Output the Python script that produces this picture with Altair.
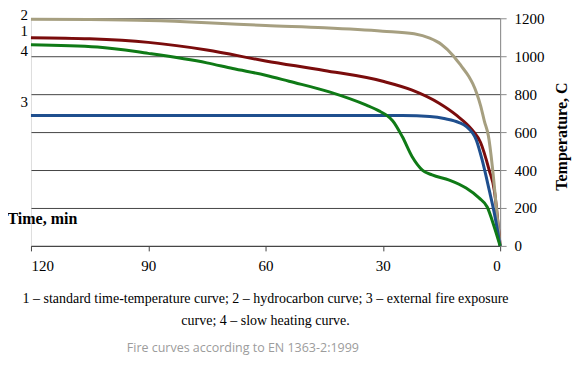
import altair as alt
import pandas as pd

# Curve 1 – standard time-temperature curve
t1 = [0, 1.5, 2.8, 5, 7.1, 11.2, 15.6, 22.5, 30, 45, 60, 75, 90, 105, 120]
T1 = [0, 295, 400, 545, 610, 689, 752, 821, 868, 925, 975, 1033, 1073, 1092, 1098]
# Curve 2 – hydrocarbon curve
t2 = [0, 1, 2, 3, 4, 5, 6, 7, 8, 10, 12, 15, 18, 22, 30, 45, 60, 75, 90, 105, 120]
T2 = [0, 210, 420, 580, 655, 740, 805, 855, 893, 950, 1003, 1062, 1095, 1118, 1132, 1150, 1162, 1177, 1188, 1193, 1195]
# Curve 3 – external fire exposure curve
t3 = [0, 1.5, 2.8, 4.6, 6.1, 8.7, 10.5, 14, 18, 25, 40, 120]
T3 = [0, 174, 295, 453, 558, 630, 650, 670, 682, 687, 688, 688]
# Curve 4 – slow heating curve
t4 = [0, 1.5, 3.3, 5.4, 8.7, 13, 17.4, 19.9, 22.5, 25, 27.5, 29, 31, 34.2, 43.7, 54, 60, 68.4, 75, 90, 103, 120]
T4 = [0, 100, 205, 253, 305, 347, 374, 400, 470, 575, 660, 688, 712, 742, 812, 868, 900, 935, 965, 1015, 1049, 1061]

curve_ids = ["2", "1", "3", "4"]
curve_colors = ["#A69F80", "#7A0C0C", "#1F4F8E", "#0F7A16"]

label_text = ["2", "1", "4", "3"]
label_t = [120, 120, 120, 120]
label_T = [1216, 1134, 1026, 758]

x_ticks = [0, 30, 60, 90, 120]
y_ticks = [0, 200, 400, 600, 800, 1000, 1200]

caption_lines = [
    "1 \u2013 standard time-temperature curve; 2 \u2013 hydrocarbon curve; 3 \u2013 external fire exposure",
    "curve; 4 \u2013 slow heating curve.",
]
source_line = "Fire curves according to EN 1363-2:1999"

rows = []
for cid, ts, Ts in [("1", t1, T1), ("2", t2, T2), ("3", t3, T3), ("4", t4, T4)]:
    for t, T in zip(ts, Ts):
        rows.append({"curve": cid, "t": t, "T": T})
df = pd.DataFrame(rows)
labels = pd.DataFrame({"lab": label_text, "t": label_t, "T": label_T})

SERIF = "Times New Roman, Liberation Serif, DejaVu Serif, serif"

x_enc = alt.X(
    "t:Q",
    scale=alt.Scale(domain=[0, 120], reverse=True, nice=False, zero=False),
    axis=alt.Axis(
        values=x_ticks, grid=False, title="Time, min", format="d", labelOverlap=False,
        titleX=-24, titleY=-27, titleAlign="left", titleBaseline="middle",
        titleFont=SERIF, titleFontSize=16, titleFontWeight="bold", titleColor="black",
        labelFont=SERIF, labelFontSize=15, labelColor="black", labelPadding=8,
        domainColor="#444444", tickColor="#444444", tickSize=5,
    ),
)
y_enc = alt.Y(
    "T:Q",
    scale=alt.Scale(domain=[0, 1200], nice=False),
    axis=alt.Axis(
        orient="right", values=y_ticks, grid=True, gridColor="#444444", gridWidth=1,
        format="d", labelOverlap=False,
        title="Temperature, C", titleAngle=270, titleX=61, titleY=118,
        titleAlign="center", titleBaseline="middle",
        titleFont=SERIF, titleFontSize=16, titleFontWeight="bold", titleColor="black",
        labelFont=SERIF, labelFontSize=15, labelColor="black", labelPadding=8,
        domainColor="#8a8a8a", tickColor="#8a8a8a", tickSize=6,
    ),
)

lines = alt.Chart(df).mark_line(strokeWidth=3, interpolate="monotone").encode(
    x=x_enc,
    y=y_enc,
    color=alt.Color("curve:N", scale=alt.Scale(domain=curve_ids, range=curve_colors), legend=None),
    order=alt.Order("t:Q"),
    detail="curve:N",
)

text = alt.Chart(labels).mark_text(
    align="right", baseline="middle", dx=-3, font=SERIF, fontSize=15, color="black"
).encode(x=x_enc, y=y_enc, text="lab:N")

chart = alt.layer(lines, text).properties(
    width=470,
    height=228,
    autosize=alt.AutoSizeParams(type="none"),
    padding={"left": 23, "top": 10, "right": 72, "bottom": 112},
    title=alt.TitleParams(
        text=caption_lines,
        subtitle=[source_line + "\u00a0" * 14 + "\u200b"],
        orient="bottom", anchor="middle", frame="group",
        font=SERIF, fontSize=14, fontWeight="normal", color="black", lineHeight=22,
        subtitleFont="Open Sans", subtitleFontSize=12.5, subtitleColor="#9c9c9c",
        subtitlePadding=14, offset=18,
    ),
).configure_view(stroke=None).configure(background="white")

chart.save("out.html", embed_options={"renderer": "svg", "actions": False})
